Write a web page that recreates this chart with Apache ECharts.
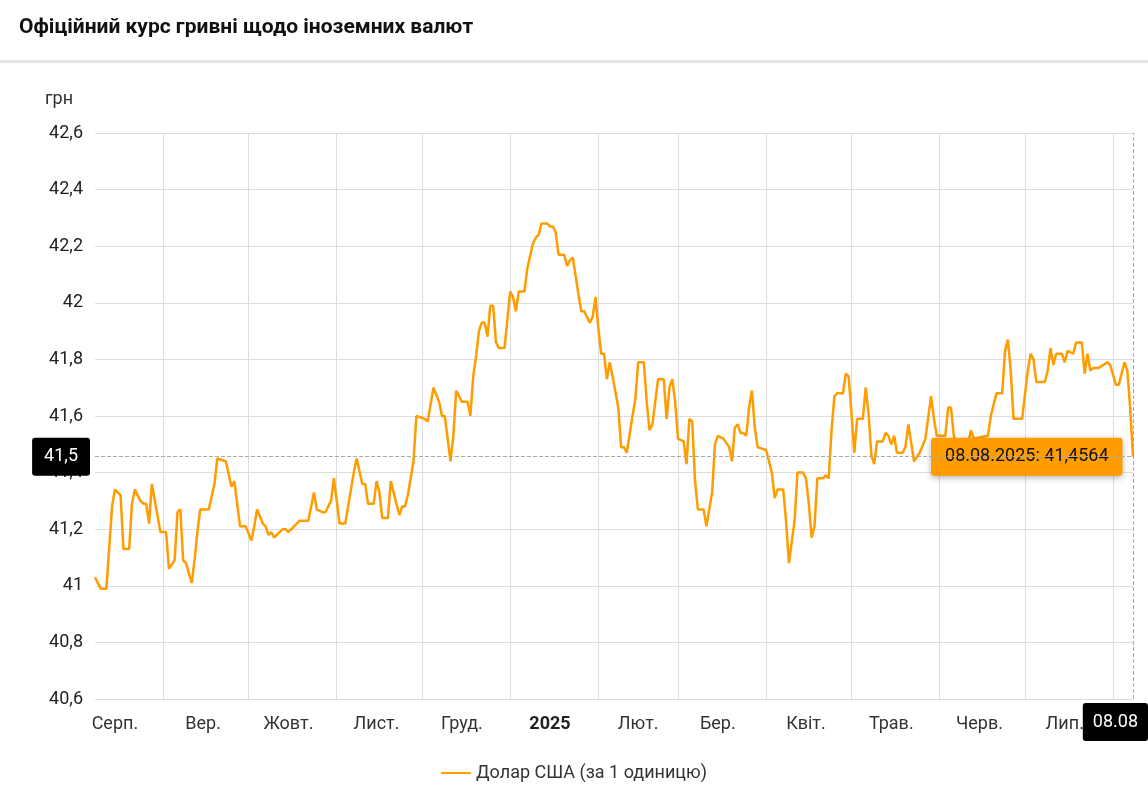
<!DOCTYPE html>
<html>
<head>
<meta charset="utf-8">
<script src="https://cdn.jsdelivr.net/npm/echarts@6/dist/echarts.min.js"></script>
<style>
  html, body { margin: 0; padding: 0; background: #fff; }
  #chart { width: 1148px; height: 793px; }
</style>
</head>
<body>
<div id="chart"></div>
<script>
// дні від 08.08.2024 та курс USD
var days = [0,2,4,6,7,9,10,12,13,14,16,17,18,19,20,23,25,26,28,29,30,31,32,34,35,36,37,40,42,43,46,48,49,51,53,55,56,57,59,60,61,62,63,66,67,68,72,75,77,78,80,81,83,84,86,88,91,92,94,95,96,98,99,100,101,103,104,107,108,109,110,112,113,116,117,119,121,122,123,125,126,127,129,131,132,133,134,135,136,137,138,139,140,141,142,144,145,146,147,148,149,151,152,154,155,156,157,159,160,161,162,163,165,166,167,168,170,171,172,174,175,176,177,178,179,180,181,182,184,185,186,187,189,190,191,192,193,194,195,196,198,200,201,202,203,204,205,207,208,209,210,211,212,214,215,217,218,219,221,223,224,225,226,227,228,229,230,231,232,233,236,238,239,240,242,243,244,246,247,249,250,251,252,253,254,256,257,258,259,260,261,263,264,265,266,267,268,270,271,272,273,274,275,277,278,279,280,281,282,284,285,286,288,290,292,294,295,296,299,300,301,302,304,306,308,309,314,315,317,319,320,321,322,323,326,328,329,330,331,334,335,336,337,338,340,341,342,344,345,347,348,349,350,351,353,356,357,359,360,362,363,364,365];
var usd = [41.03,40.99,40.99,41.28,41.34,41.32,41.13,41.13,41.29,41.34,41.30,41.29,41.29,41.22,41.36,41.19,41.19,41.06,41.09,41.26,41.27,41.09,41.08,41.01,41.09,41.19,41.27,41.27,41.36,41.45,41.44,41.35,41.37,41.21,41.21,41.16,41.21,41.27,41.22,41.21,41.18,41.19,41.17,41.20,41.20,41.19,41.23,41.23,41.33,41.27,41.26,41.26,41.30,41.38,41.22,41.22,41.40,41.45,41.36,41.36,41.29,41.29,41.37,41.33,41.24,41.24,41.37,41.25,41.28,41.28,41.32,41.44,41.60,41.59,41.58,41.70,41.65,41.60,41.60,41.44,41.53,41.69,41.65,41.65,41.60,41.74,41.81,41.90,41.93,41.93,41.88,41.99,41.99,41.86,41.84,41.84,41.94,42.04,42.02,41.97,42.04,42.04,42.12,42.21,42.23,42.24,42.28,42.28,42.27,42.27,42.25,42.17,42.17,42.13,42.15,42.16,42.03,41.97,41.97,41.93,41.95,42.02,41.91,41.82,41.82,41.73,41.79,41.74,41.63,41.49,41.49,41.47,41.60,41.66,41.79,41.79,41.79,41.65,41.55,41.57,41.73,41.73,41.59,41.70,41.73,41.65,41.52,41.51,41.43,41.59,41.58,41.37,41.27,41.27,41.21,41.33,41.50,41.53,41.52,41.49,41.44,41.56,41.57,41.54,41.54,41.53,41.63,41.69,41.56,41.49,41.48,41.40,41.31,41.34,41.34,41.23,41.08,41.23,41.40,41.40,41.38,41.29,41.17,41.21,41.38,41.38,41.39,41.38,41.55,41.67,41.68,41.68,41.75,41.74,41.61,41.47,41.59,41.59,41.70,41.61,41.46,41.43,41.51,41.51,41.54,41.53,41.50,41.53,41.47,41.47,41.49,41.57,41.44,41.47,41.52,41.67,41.59,41.53,41.53,41.63,41.63,41.53,41.46,41.45,41.55,41.52,41.53,41.60,41.68,41.68,41.83,41.87,41.76,41.59,41.59,41.76,41.82,41.80,41.72,41.72,41.76,41.84,41.78,41.82,41.82,41.79,41.83,41.82,41.86,41.86,41.75,41.82,41.76,41.77,41.77,41.79,41.78,41.71,41.71,41.79,41.76,41.63,41.4564];
var monthNames = ['Січ.','Лют.','Бер.','Квіт.','Трав.','Черв.','Лип.','Серп.','Вер.','Жовт.','Лист.','Груд.'];
var yTicks = [40.6, 42.6, 0.2];

var start = Date.UTC(2024, 7, 8);
var DAY = 86400000;
var seriesData = days.map(function (d, i) { return [start + d * DAY, usd[i]]; });
var last = seriesData[seriesData.length - 1];

var monthStarts = [], monthMids = [];
for (var k = 0; k < 12; k++) {
    monthStarts.push(Date.UTC(2024, 8 + k, 1));
    monthMids.push(Date.UTC(2024, 7 + k, 15));
}

function fmtNum(v, digits) {
    return (digits == null ? String(+v.toFixed(2)) : v.toFixed(digits)).replace('.', ',');
}
function pad(n) { return n < 10 ? '0' + n : '' + n; }

var chart = echarts.init(document.getElementById('chart'));
chart.setOption({
    animation: false,
    textStyle: { fontFamily: 'Roboto' },
    title: {
        text: 'Офіційний курс гривні щодо іноземних валют',
        left: 14, top: 12,
        textStyle: { fontSize: 21, fontWeight: 'bold', color: '#111' }
    },
    graphic: [{
        type: 'rect', left: 0, top: 60, shape: { width: 1148, height: 3 },
        style: { fill: '#e6e6e6' }, silent: true
    }],
    grid: { left: 95, right: 15, top: 133, bottom: 94 },
    legend: {
        bottom: 6, left: 'center', icon: 'rect', itemWidth: 30, itemHeight: 2,
        textStyle: { fontSize: 18, color: '#333' }
    },
    xAxis: {
        type: 'value',
        min: start, max: last[0],
        axisLine: { show: false },
        axisTick: { show: false, customValues: monthStarts },
        splitLine: { show: true, lineStyle: { color: '#ddd' } },
        axisLabel: {
            customValues: monthMids,
            fontSize: 18, color: '#333', margin: 16,
            formatter: function (v) {
                var d = new Date(v);
                if (d.getUTCMonth() === 0) return '{b|' + d.getUTCFullYear() + '}';
                return monthNames[d.getUTCMonth()];
            },
            rich: { b: { fontWeight: 'bold', fontSize: 18, color: '#222' } }
        },
        axisPointer: {
            show: true, status: 'show', value: last[0], triggerTooltip: false,
            lineStyle: { color: '#aaa', type: 'dashed' },
            label: {
                show: true, backgroundColor: '#000', color: '#fff', fontSize: 18,
                padding: [10, 10], margin: 4,
                formatter: function (p) { var d = new Date(p.value); return pad(d.getUTCDate()) + '.' + pad(d.getUTCMonth() + 1); }
            }
        }
    },
    yAxis: {
        type: 'value',
        min: yTicks[0], max: yTicks[1], interval: yTicks[2],
        name: 'грн',
        nameTextStyle: { fontSize: 18, color: '#333', align: 'left', padding: [0, 0, 10, -50] },
        axisLine: { show: false }, axisTick: { show: false },
        splitLine: { lineStyle: { color: '#ddd' } },
        axisLabel: { fontSize: 18, color: '#222', margin: 12, formatter: function (v) { return fmtNum(v); } },
        axisPointer: {
            show: true, status: 'show', value: last[1], triggerTooltip: false,
            lineStyle: { color: '#aaa', type: 'dashed' },
            label: {
                show: true, backgroundColor: '#000', color: '#fff', fontSize: 18,
                padding: [10, 12], margin: 5,
                formatter: function (p) { return fmtNum(p.value, 1); }
            }
        }
    },
    series: [{
        name: 'Долар США (за 1 одиницю)',
        type: 'line',
        data: seriesData,
        showSymbol: false,
        lineStyle: { color: '#ff9c00', width: 2.5 },
        itemStyle: { color: '#ff9c00' },
        markPoint: {
            symbol: 'circle', symbolSize: 1,
            data: [{ coord: last }],
            label: {
                show: true, position: 'left', distance: 10,
                formatter: '08.08.2025: ' + fmtNum(last[1], 4),
                backgroundColor: '#ff9c00', color: '#111', fontSize: 18,
                padding: [10, 14], borderRadius: 3,
                shadowBlur: 6, shadowColor: 'rgba(0,0,0,0.3)', shadowOffsetY: 2
            }
        }
    }]
});
</script>
</body>
</html>
